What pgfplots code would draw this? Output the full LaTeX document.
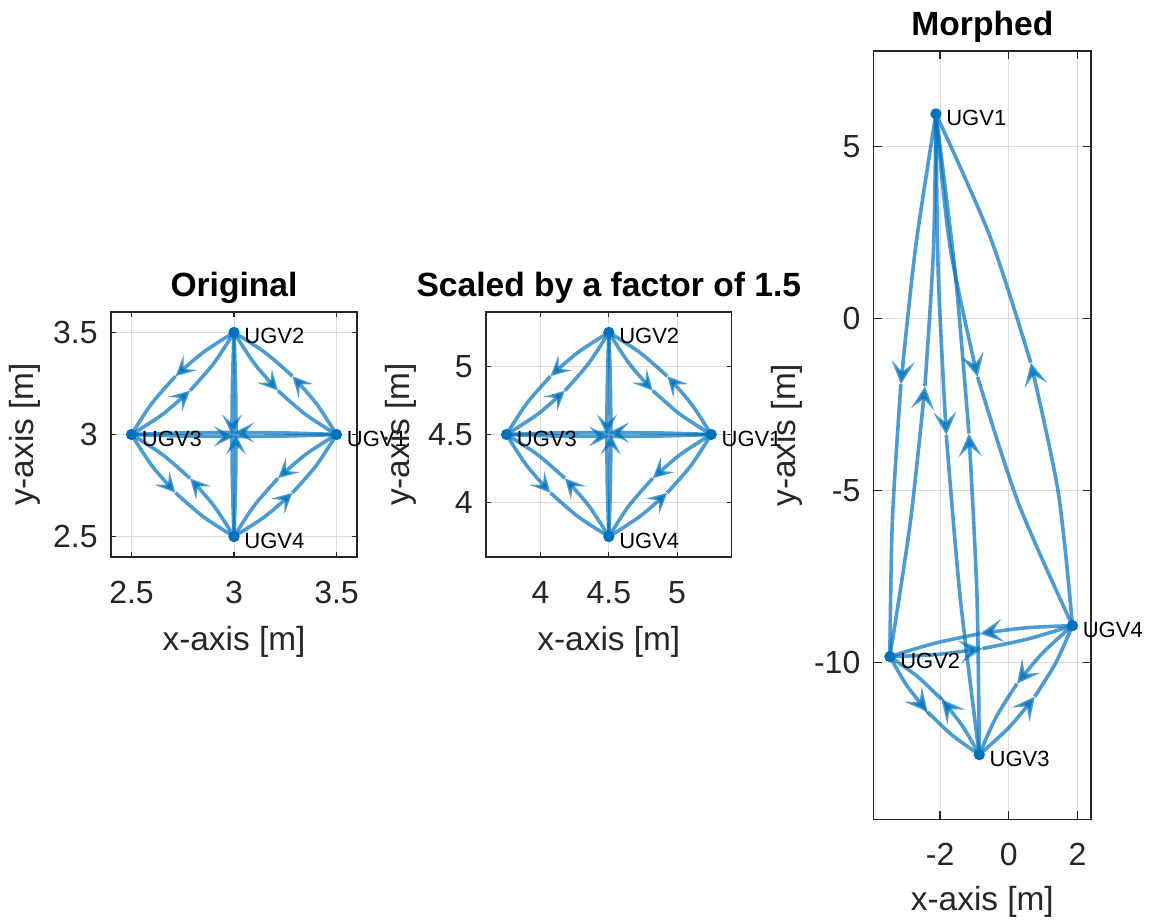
\documentclass[border=0pt]{standalone}
\usepackage{fontspec}
\setmainfont{Liberation Sans}
\usepackage{pgfplots}
\pgfplotsset{compat=1.18}
\usetikzlibrary{arrows.meta}
\definecolor{mblue}{rgb}{0,0.447,0.741}
\definecolor{mgray}{rgb}{0.15,0.15,0.15}
\newcommand\lblfont{\fontsize{16.7bp}{20bp}\selectfont}
\newcommand\ttlfont{\fontsize{16.8bp}{20bp}\selectfont\bfseries}
\tikzset{lbl/.style={anchor=west, inner sep=0pt, font=\fontsize{11bp}{13bp}\selectfont, xshift=5bp, yshift=-2bp}}
\pgfplotsset{
  mstyle/.style={
    scale only axis, anchor=south west, clip=false,
    axis line style={mgray, line width=0.75bp},
    tick style={mgray, line width=0.6bp},
    tick align=inside, xtick pos=both, ytick pos=both,
    xticklabel pos=lower, yticklabel pos=left,
    grid=major, major grid style={black!14, line width=0.5bp},
    /pgf/number format/assume math mode=true,
    ticklabel style={font=\fontsize{16bp}{19bp}\selectfont, text=mgray, inner sep=0pt},
    xticklabel shift=12bp, yticklabel shift=6.5bp,
    major tick length=2.5bp,
  },
  e2/.style={mblue, opacity=0.7, line width=1.8bp, smooth, no markers},
  e1/.style={e2, -{Stealth[length=10bp,width=10bp,inset=4.5bp]}},
  m1/.style={e2, -{Stealth[length=11.5bp,width=11.5bp,inset=5.2bp]}},
  vtx/.style={only marks, mark=*, mark size=2.6bp, mark options={fill=mblue, draw=mblue}},
}
\begin{document}
\begin{tikzpicture}
\path[use as bounding box] (0,0) rectangle (576bp,461bp);
% ---------------- Original ----------------
\begin{axis}[mstyle, at={(55.5bp,182.5bp)}, width=123bp, height=122.5bp,
  xmin=2.4, xmax=3.6, ymin=2.4, ymax=3.6,
  xtick={2.5,3,3.5}, ytick={2.5,3,3.5},
  title={Original}, xlabel={x-axis [m]}, ylabel={y-axis [m]},
  every axis title/.style={at={(axis description cs:0.5,1.065)}, anchor=base, font=\ttlfont, inner sep=0pt},
  every axis x label/.style={at={(axis description cs:0.5,-0.382)}, anchor=base, font=\lblfont, text=mgray, inner sep=0pt},
  every axis y label/.style={at={(axis description cs:-0.317,0.5)}, rotate=90, anchor=base, font=\lblfont, text=mgray, inner sep=0pt}]
% 1->2
\addplot[e1] coordinates {(3.5,3) (3.4015,3.1515) (3.2854,3.2854)};
\addplot[e2] coordinates {(3.2854,3.2854) (3.1515,3.4015) (3,3.5)};
% 2->1
\addplot[e1] coordinates {(3,3.5) (3.0985,3.3485) (3.2146,3.2146)};
\addplot[e2] coordinates {(3.2146,3.2146) (3.3485,3.0985) (3.5,3)};
% 2->3
\addplot[e1] coordinates {(3,3.5) (2.8485,3.4015) (2.7146,3.2854)};
\addplot[e2] coordinates {(2.7146,3.2854) (2.5985,3.1515) (2.5,3)};
% 3->2
\addplot[e1] coordinates {(2.5,3) (2.6515,3.0985) (2.7854,3.2146)};
\addplot[e2] coordinates {(2.7854,3.2146) (2.9015,3.3485) (3,3.5)};
% 3->4
\addplot[e1] coordinates {(2.5,3) (2.5985,2.8485) (2.7146,2.7146)};
\addplot[e2] coordinates {(2.7146,2.7146) (2.8485,2.5985) (3,2.5)};
% 4->3
\addplot[e1] coordinates {(3,2.5) (2.9015,2.6515) (2.7854,2.7854)};
\addplot[e2] coordinates {(2.7854,2.7854) (2.6515,2.9015) (2.5,3)};
% 4->1
\addplot[e1] coordinates {(3,2.5) (3.1515,2.5985) (3.2854,2.7146)};
\addplot[e2] coordinates {(3.2854,2.7146) (3.4015,2.8485) (3.5,3)};
% 1->4
\addplot[e1] coordinates {(3.5,3) (3.3485,2.9015) (3.2146,2.7854)};
\addplot[e2] coordinates {(3.2146,2.7854) (3.0985,2.6515) (3,2.5)};
% 1->3
\addplot[e1] coordinates {(3.5,3) (3.25,3.0075) (3,3.01)};
\addplot[e2] coordinates {(3,3.01) (2.75,3.0075) (2.5,3)};
% 3->1
\addplot[e1] coordinates {(2.5,3) (2.75,2.9925) (3,2.99)};
\addplot[e2] coordinates {(3,2.99) (3.25,2.9925) (3.5,3)};
% 2->4
\addplot[e1] coordinates {(3,3.5) (2.9925,3.25) (2.99,3)};
\addplot[e2] coordinates {(2.99,3) (2.9925,2.75) (3,2.5)};
% 4->2
\addplot[e1] coordinates {(3,2.5) (3.0075,2.75) (3.01,3)};
\addplot[e2] coordinates {(3.01,3) (3.0075,3.25) (3,3.5)};
\addplot[vtx] coordinates {(3.5,3) (3,3.5) (2.5,3) (3,2.5)};
\node[lbl] at (axis cs:3.5,3) {UGV1};
\node[lbl] at (axis cs:3,3.5) {UGV2};
\node[lbl] at (axis cs:2.5,3) {UGV3};
\node[lbl] at (axis cs:3,2.5) {UGV4};
\end{axis}
% ---------------- Scaled ----------------
\begin{axis}[mstyle, at={(243bp,182.5bp)}, width=122.85bp, height=122.5bp,
  xmin=3.6, xmax=5.4, ymin=3.6, ymax=5.4,
  xtick={4,4.5,5}, ytick={4,4.5,5},
  title={Scaled by a factor of 1.5}, xlabel={x-axis [m]}, ylabel={y-axis [m]},
  every axis title/.style={at={(axis description cs:0.5,1.065)}, anchor=base, font=\ttlfont, inner sep=0pt},
  every axis x label/.style={at={(axis description cs:0.5,-0.382)}, anchor=base, font=\lblfont, text=mgray, inner sep=0pt},
  every axis y label/.style={at={(axis description cs:-0.313,0.5)}, rotate=90, anchor=base, font=\lblfont, text=mgray, inner sep=0pt}]
% 1->2
\addplot[e1] coordinates {(5.25,4.5) (5.1023,4.7273) (4.9281,4.9281)};
\addplot[e2] coordinates {(4.9281,4.9281) (4.7273,5.1023) (4.5,5.25)};
% 2->1
\addplot[e1] coordinates {(4.5,5.25) (4.6478,5.0228) (4.8219,4.8219)};
\addplot[e2] coordinates {(4.8219,4.8219) (5.0228,4.6478) (5.25,4.5)};
% 2->3
\addplot[e1] coordinates {(4.5,5.25) (4.2728,5.1023) (4.0719,4.9281)};
\addplot[e2] coordinates {(4.0719,4.9281) (3.8978,4.7273) (3.75,4.5)};
% 3->2
\addplot[e1] coordinates {(3.75,4.5) (3.9773,4.6478) (4.1781,4.8219)};
\addplot[e2] coordinates {(4.1781,4.8219) (4.3523,5.0228) (4.5,5.25)};
% 3->4
\addplot[e1] coordinates {(3.75,4.5) (3.8978,4.2728) (4.0719,4.0719)};
\addplot[e2] coordinates {(4.0719,4.0719) (4.2728,3.8978) (4.5,3.75)};
% 4->3
\addplot[e1] coordinates {(4.5,3.75) (4.3523,3.9773) (4.1781,4.1781)};
\addplot[e2] coordinates {(4.1781,4.1781) (3.9773,4.3523) (3.75,4.5)};
% 4->1
\addplot[e1] coordinates {(4.5,3.75) (4.7273,3.8978) (4.9281,4.0719)};
\addplot[e2] coordinates {(4.9281,4.0719) (5.1023,4.2728) (5.25,4.5)};
% 1->4
\addplot[e1] coordinates {(5.25,4.5) (5.0228,4.3523) (4.8219,4.1781)};
\addplot[e2] coordinates {(4.8219,4.1781) (4.6478,3.9773) (4.5,3.75)};
% 1->3
\addplot[e1] coordinates {(5.25,4.5) (4.875,4.5113) (4.5,4.515)};
\addplot[e2] coordinates {(4.5,4.515) (4.125,4.5113) (3.75,4.5)};
% 3->1
\addplot[e1] coordinates {(3.75,4.5) (4.125,4.4888) (4.5,4.485)};
\addplot[e2] coordinates {(4.5,4.485) (4.875,4.4888) (5.25,4.5)};
% 2->4
\addplot[e1] coordinates {(4.5,5.25) (4.4888,4.875) (4.485,4.5)};
\addplot[e2] coordinates {(4.485,4.5) (4.4888,4.125) (4.5,3.75)};
% 4->2
\addplot[e1] coordinates {(4.5,3.75) (4.5113,4.125) (4.515,4.5)};
\addplot[e2] coordinates {(4.515,4.5) (4.5113,4.875) (4.5,5.25)};
\addplot[vtx] coordinates {(5.25,4.5) (4.5,5.25) (3.75,4.5) (4.5,3.75)};
\node[lbl] at (axis cs:5.25,4.5) {UGV1};
\node[lbl] at (axis cs:4.5,5.25) {UGV2};
\node[lbl] at (axis cs:3.75,4.5) {UGV3};
\node[lbl] at (axis cs:4.5,3.75) {UGV4};
\end{axis}
% ---------------- Morphed ----------------
\begin{axis}[mstyle, at={(436.85bp,51.35bp)}, width=108.65bp, height=384.15bp,
  xmin=-3.93, xmax=2.39, ymin=-14.56, ymax=7.78,
  xtick={-2,0,2}, ytick={-10,-5,0,5}, major tick length=4bp,
  xticklabel shift=11.5bp,
  title={Morphed}, xlabel={x-axis [m]}, ylabel={y-axis [m]},
  every axis title/.style={at={(axis description cs:0.5,1.0208)}, anchor=base, font=\ttlfont, inner sep=0pt},
  every axis x label/.style={at={(axis description cs:0.5,-0.119)}, anchor=base, font=\lblfont, text=mgray, inner sep=0pt},
  every axis y label/.style={at={(axis description cs:-0.359,0.5)}, rotate=90, anchor=base, font=\lblfont, text=mgray, inner sep=0pt}]
% 1->2
\addplot[m1] coordinates {(-2.12,5.95) (-2.7168,2.0272) (-3.139,-1.910)};
\addplot[e2] coordinates {(-3.139,-1.910) (-3.3868,-5.8628) (-3.46,-9.83)};
% 2->1
\addplot[m1] coordinates {(-3.46,-9.83) (-2.8632,-5.9072) (-2.441,-1.970)};
\addplot[e2] coordinates {(-2.441,-1.970) (-2.1932,1.9828) (-2.12,5.95)};
% 1->3
\addplot[m1] coordinates {(-2.12,5.95) (-2.0518,1.2758) (-1.819,-3.387)};
\addplot[e2] coordinates {(-1.819,-3.387) (-1.4218,-8.0392) (-0.86,-12.68)};
% 3->1
\addplot[m1] coordinates {(-0.86,-12.68) (-0.9282,-8.0058) (-1.161,-3.343)};
\addplot[e2] coordinates {(-1.161,-3.343) (-1.5582,1.3092) (-2.12,5.95)};
% 1->4
\addplot[m1] coordinates {(-2.12,5.95) (-1.7073,2.0755) (-0.908,-1.696)};
\addplot[e2] coordinates {(-0.908,-1.696) (0.2777,-5.3645) (1.85,-8.93)};
% 4->1
\addplot[m1] coordinates {(1.85,-8.93) (1.4373,-5.0555) (0.638,-1.284)};
\addplot[e2] coordinates {(0.638,-1.284) (-0.5477,2.3845) (-2.12,5.95)};
% 2->4
\addplot[m1] coordinates {(-3.46,-9.83) (-2.105,-9.7678) (-0.768,-9.597)};
\addplot[e2] coordinates {(-0.768,-9.597) (0.55,-9.3178) (1.85,-8.93)};
% 4->2
\addplot[m1] coordinates {(1.85,-8.93) (0.495,-8.9922) (-0.842,-9.163)};
\addplot[e2] coordinates {(-0.842,-9.163) (-2.16,-9.4422) (-3.46,-9.83)};
% 2->3
\addplot[m1] coordinates {(-3.46,-9.83) (-2.96,-10.679) (-2.36,-11.437)};
\addplot[e2] coordinates {(-2.36,-11.437) (-1.66,-12.104) (-0.86,-12.68)};
% 3->2
\addplot[m1] coordinates {(-0.86,-12.68) (-1.36,-11.831) (-1.96,-11.073)};
\addplot[e2] coordinates {(-1.96,-11.073) (-2.66,-10.406) (-3.46,-9.83)};
% 3->4
\addplot[m1] coordinates {(-0.86,-12.68) (0.0118,-11.8828) (0.754,-10.992)};
\addplot[e2] coordinates {(0.754,-10.992) (1.3668,-10.0078) (1.85,-8.93)};
% 4->3
\addplot[m1] coordinates {(1.85,-8.93) (0.9782,-9.7272) (0.236,-10.618)};
\addplot[e2] coordinates {(0.236,-10.618) (-0.3768,-11.6022) (-0.86,-12.68)};
\addplot[vtx] coordinates {(-2.12,5.95) (-3.46,-9.83) (-0.86,-12.68) (1.85,-8.93)};
\node[lbl] at (axis cs:-2.12,5.95) {UGV1};
\node[lbl] at (axis cs:-3.46,-9.83) {UGV2};
\node[lbl] at (axis cs:-0.86,-12.68) {UGV3};
\node[lbl] at (axis cs:1.85,-8.93) {UGV4};
\end{axis}
\end{tikzpicture}
\end{document}
